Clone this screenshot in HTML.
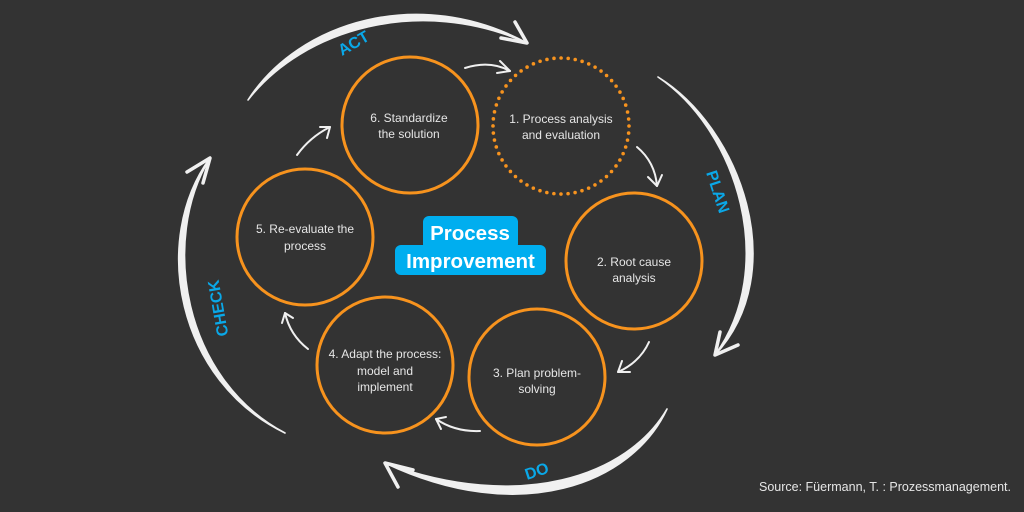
<!DOCTYPE html>
<html>
<head>
<meta charset="utf-8">
<style>
html,body{margin:0;padding:0;background:#333333;}
svg{display:block;}
</style>
</head>
<body>
<svg width="1024" height="512" viewBox="0 0 1024 512" xmlns="http://www.w3.org/2000/svg">
<rect width="1024" height="512" fill="#333333"/>

<!-- Big tapered arcs -->
<g fill="#f0f0f0" stroke="#f0f0f0" stroke-width="1.6" stroke-linejoin="round" stroke-linecap="round">
  <!-- ACT -->
  <path d="M248,100 C299,21 420,-15 527,43 C420,-5 303,29 248,100 Z"/>
  <!-- PLAN -->
  <path d="M658,77 C741,128 792,272 715,355 C778,268 739,132 658,77 Z"/>
  <!-- DO -->
  <path d="M667,409 C632,484 520,527 385,463 C520,513 628,476 667,409 Z"/>
  <!-- CHECK -->
  <path d="M285,433 C177,381 150,240 210,158 C160,240 183,379 285,433 Z"/>
</g>
<!-- big arrowheads -->
<g fill="none" stroke="#f0f0f0" stroke-width="3.5" stroke-linecap="round" stroke-linejoin="round">
  <polyline points="515,22 527,43 501,38"/>
  <polyline points="720,332 715,355 738,345"/>
  <polyline points="398,487 385,463 413,470"/>
  <polyline points="187,172 210,158 203,183"/>
</g>

<!-- small connector arrows -->
<g fill="none" stroke="#f0f0f0" stroke-width="2" stroke-linecap="round" stroke-linejoin="round">
  <path d="M465,68 Q490,60 510,71"/>
  <polyline points="500,61 510,71 497,73"/>
  <path d="M637,147 Q655,162 657,186"/>
  <polyline points="648,177 657,186 662,175"/>
  <path d="M649,342 Q640,362 618,372"/>
  <polyline points="622,361 618,372 630,372"/>
  <path d="M480,431 Q455,432 436,419"/>
  <polyline points="446,417 436,419 441,429"/>
  <path d="M308,349 Q290,335 285,313"/>
  <polyline points="282,323 285,313 293,318"/>
  <path d="M297,155 Q310,137 330,127"/>
  <polyline points="320,127 330,127 327,138"/>
</g>

<!-- circles -->
<g fill="none" stroke="#F7931E" stroke-width="3">
  <circle cx="410" cy="125" r="68"/>
  <circle cx="634" cy="261" r="68"/>
  <circle cx="537" cy="377" r="68"/>
  <circle cx="385" cy="365" r="68"/>
  <circle cx="305" cy="237" r="68"/>
</g>
<circle cx="561" cy="126" r="68" fill="none" stroke="#F7931E" stroke-width="3.6" stroke-linecap="round" stroke-dasharray="0 7.12"/>

<!-- circle texts -->
<g font-family="'Liberation Sans', sans-serif" font-size="12" fill="#e6e6e6" text-anchor="middle">
  <text x="409" y="122">6. Standardize</text>
  <text x="409" y="138">the solution</text>
  <text x="561" y="123">1. Process analysis</text>
  <text x="561" y="139">and evaluation</text>
  <text x="634" y="266">2. Root cause</text>
  <text x="634" y="282">analysis</text>
  <text x="537" y="377">3. Plan problem-</text>
  <text x="537" y="393">solving</text>
  <text x="385" y="358">4. Adapt the process:</text>
  <text x="385" y="375">model and</text>
  <text x="385" y="391">implement</text>
  <text x="305" y="233">5. Re-evaluate the</text>
  <text x="305" y="250">process</text>
</g>

<!-- center title -->
<rect x="423" y="216" width="95" height="34" rx="6" fill="#00AEEF"/>
<rect x="395" y="245" width="151" height="30" rx="6" fill="#00AEEF"/>
<g font-family="'Liberation Sans', sans-serif" font-size="20.5" font-weight="bold" fill="#ffffff" text-anchor="middle">
  <text x="470" y="240">Process</text>
  <text x="470.5" y="268">Improvement</text>
</g>

<!-- PDCA labels -->
<g font-family="'Liberation Sans', sans-serif" font-size="16" font-weight="bold" fill="#0AA8E8" text-anchor="middle" dominant-baseline="central">
  <text transform="translate(354,44) rotate(-30)">ACT</text>
  <text transform="translate(717,192) rotate(72)">PLAN</text>
  <text transform="translate(219,308) rotate(-100)">CHECK</text>
  <text transform="translate(537,472) rotate(-18)">DO</text>
</g>

<!-- source -->
<text x="759" y="491" font-family="'Liberation Sans', sans-serif" font-size="12.5" fill="#e6e6e6">Source: Füermann, T. : Prozessmanagement.</text>
</svg>
</body>
</html>
